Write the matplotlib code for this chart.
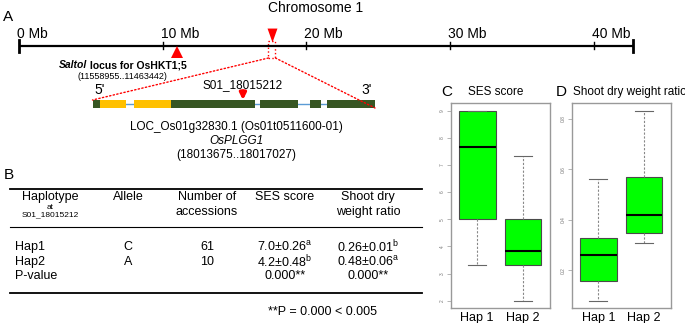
import numpy as np
import matplotlib.pyplot as plt
from matplotlib.patches import Rectangle, ConnectionPatch
from matplotlib.lines import Line2D

plt.rcParams['font.family'] = ['Liberation Sans', 'DejaVu Sans']
plt.rcParams['mathtext.fontset'] = 'custom'
plt.rcParams['mathtext.rm'] = 'Liberation Sans'
plt.rcParams['mathtext.it'] = 'Liberation Sans:italic'
plt.rcParams['mathtext.bf'] = 'Liberation Sans:bold'

W, H = 685, 323

#--- panel A: chromosome 1 and gene model
chrom_len = 42.7              # Mb as drawn
chrom_ticks = [0, 10, 20, 30, 40]
saltol_pos = 11.0             # Mb
plgg1_region = (17.35, 17.84) # Mb, zoom box
gene_start, gene_end = 18013675, 18017027
exons_green = [(18013675, 18013767), (18014611, 18015609), (18015660, 18016117),
               (18016251, 18016390), (18016461, 18017027)]
exons_yellow = [(18013767, 18014076), (18014162, 18014611)]
snp_mark = 18015460           # where the arrow is drawn
snp_name = 'S01_18015212'

#--- panel B: table
tab_cols = ['Haplotype', 'Allele', 'Number of\naccessions', 'SES score', 'Shoot dry\nweight ratio']
tab_rows = [['Hap1', 'C', '61', r'7.0±0.26$^{\mathrm{a}}$', r'0.26±0.01$^{\mathrm{b}}$'],
            ['Hap2', 'A', '10', r'4.2±0.48$^{\mathrm{b}}$', r'0.48±0.06$^{\mathrm{a}}$'],
            ['P-value', '', '', '0.000**', '0.000**']]

#--- panels C, D: box stats
haps = ['Hap 1', 'Hap 2']
ses_lo = [3.33, 2.0]
ses_q1 = [5.0, 3.33]
ses_med = [7.67, 3.83]
ses_q3 = [9.0, 5.0]
ses_hi = [9.0, 7.33]
sdw_lo = [0.08, 0.31]
sdw_q1 = [0.159, 0.348]
sdw_med = [0.261, 0.42]
sdw_q3 = [0.329, 0.569]
sdw_hi = [0.56, 0.83]

fig = plt.figure(figsize=(6.85, 3.23), dpi=100)

def fx(x):
    return x / W

def fy(y):
    return 1 - y / H

def px_axes(x0, y0, x1, y1):
    return fig.add_axes([x0 / W, 1 - y1 / H, (x1 - x0) / W, (y1 - y0) / H])

# chromosome axis, x in Mb, y in pixel rows
mb_px = 14.375
ax_chr = px_axes(0, 0, W, 100)
ax_chr.set_xlim(-19 / mb_px, (W - 19) / mb_px)
ax_chr.set_ylim(100, 0)
ax_chr.axis('off')
ax_chr.plot([0, chrom_len], [46, 46], color='black', lw=1.6, solid_capstyle='butt')
for x in [0, chrom_len]:
    ax_chr.plot([x, x], [40, 52], color='black', lw=2)
for t in chrom_ticks[1:]:
    ax_chr.plot([t, t], [42, 49], color='black', lw=1)
for t in chrom_ticks:
    ax_chr.text(t - 0.15, 34, '%d Mb' % t, ha='left', va='center', fontsize=10)
ax_chr.plot(saltol_pos, 51.5, marker='^', color='red', ms=8, mew=0)
mid = sum(plgg1_region) / 2
ax_chr.plot(mid, 35, marker=[(-5, 7), (5, 7), (0, -7)], color='red', ms=10, mew=0)
ax_chr.add_patch(Rectangle((plgg1_region[0], 41), plgg1_region[1] - plgg1_region[0], 17,
                           fill=False, ec='red', ls=':', lw=1))

fig.text(fx(3), fy(17), 'A', fontsize=11, va='center', ha='left')
fig.text(fx(316), fy(8), 'Chromosome 1', fontsize=10, va='center', ha='center')
fig.text(fx(87), fy(65), 'Saltol', fontsize=7.5, fontweight='bold', fontstyle='italic',
         ha='right', va='center')
fig.text(fx(87), fy(65), ' locus for OsHKT1;5', fontsize=7.5, fontweight='bold',
         ha='left', va='center')
fig.text(fx(122), fy(76), '(11558955..11463442)', fontsize=6.5, ha='center', va='center')

# gene model axis, x in bp
ax_gene = px_axes(92.5, 80, 375, 115)
ax_gene.set_xlim(gene_start, gene_end)
ax_gene.set_ylim(115, 80)
ax_gene.axis('off')
ax_gene.plot([gene_start, gene_end], [104, 104], color='#5b9bd5', lw=1, zorder=1)
ax_gene.broken_barh([(s, e - s) for s, e in exons_green], (100.3, 7.4),
                    facecolors='#375623', edgecolor='none', zorder=3)
ax_gene.broken_barh([(s, e - s) for s, e in exons_yellow], (100, 8),
                    facecolors='#ffc000', edgecolor='none', zorder=3)
ax_gene.annotate('', xy=(snp_mark, 100), xytext=(snp_mark, 91),
                 arrowprops=dict(arrowstyle='-|>', color='red', lw=2.5, mutation_scale=9,
                                 shrinkA=0, shrinkB=0))
ax_gene.text(snp_mark, 85, snp_name, ha='center', va='center', fontsize=8.5)
ax_gene.text(gene_start + 20, 90, "5'", ha='left', va='center', fontsize=10)
ax_gene.text(gene_end - 35, 90, "3'", ha='right', va='center', fontsize=10)

for xa, xb, yb in [(plgg1_region[0], gene_start, 100), (plgg1_region[1], gene_end, 108)]:
    con = ConnectionPatch(xyA=(xa, 58), coordsA=ax_chr.transData,
                          xyB=(xb, yb), coordsB=ax_gene.transData,
                          color='red', ls=':', lw=1)
    fig.add_artist(con)

fig.text(fx(236), fy(127), 'LOC_Os01g32830.1 (Os01t0511600-01)', fontsize=8.5, ha='center', va='center')
fig.text(fx(236), fy(141), 'OsPLGG1', fontsize=8.5, fontstyle='italic', ha='center', va='center')
fig.text(fx(236), fy(155), '(%d..%d)' % (gene_start, gene_end), fontsize=8.5, ha='center', va='center')

# panel B table
fig.text(fx(4), fy(175.5), 'B', fontsize=11, ha='left', va='center')
for y, lw in [(189, 1.3), (226.7, 0.8), (293.3, 1.3)]:
    fig.add_artist(Line2D([fx(10), fx(422)], [fy(y), fy(y)], color='black', lw=lw))
col_x = [50, 128, 207, 285, 368]
for x, name in zip(col_x, tab_cols):
    lines = name.split('\n')
    fig.text(fx(x), fy(196.7), lines[0], fontsize=9, ha='center', va='center')
    if len(lines) > 1:
        fig.text(fx(x), fy(211.7), lines[1], fontsize=9, ha='center', va='center')
fig.text(fx(col_x[0]), fy(207.5), 'at', fontsize=6, ha='center', va='center')
fig.text(fx(col_x[0]), fy(214.5), snp_name, fontsize=6, ha='center', va='center')
row_y = [246.7, 261.7, 276]
for y, row in zip(row_y, tab_rows):
    fig.text(fx(15), fy(y), row[0], fontsize=9, ha='left', va='center')
    for x, cell in zip(col_x[1:], row[1:]):
        fig.text(fx(x), fy(y), cell, fontsize=9, ha='center', va='center')
fig.text(fx(322), fy(311.7), '**P = 0.000 < 0.005', fontsize=9, ha='center', va='center')

# panels C, D boxplots
def box_stats(lo, q1, med, q3, hi):
    return [dict(whislo=a, q1=b, med=c, q3=d, whishi=e, label=n)
            for a, b, c, d, e, n in zip(lo, q1, med, q3, hi, haps)]

def draw_box(ax, stats, ylim, yticks):
    ax.bxp(stats, positions=[1, 2], widths=0.8, patch_artist=True, showfliers=False,
           boxprops=dict(facecolor='#00ff00', edgecolor='#4a4a4a', lw=0.8),
           medianprops=dict(color='black', lw=1.5),
           whiskerprops=dict(color='#888888', ls=(0, (2, 1.5)), lw=0.8),
           capprops=dict(color='#666666', lw=0.8))
    ax.set_xlim(0.42, 2.58)
    ax.set_ylim(*ylim)
    ax.set_yticks(yticks)
    ax.set_yticklabels([('%g' % v) for v in yticks], rotation=90, fontsize=3.5,
                       color='#777777', va='center')
    ax.tick_params(axis='y', length=3, width=0.5, color='#999999', pad=1)
    ax.tick_params(axis='x', length=0, labelsize=9, pad=3)
    for s in ax.spines.values():
        s.set_color('#999999')
        s.set_linewidth(1)

ax_c = px_axes(450.7, 103, 549.5, 308.3)
draw_box(ax_c, box_stats(ses_lo, ses_q1, ses_med, ses_q3, ses_hi), (1.72, 9.28),
         [2, 3, 4, 5, 6, 7, 8, 9])
ax_d = px_axes(571.7, 103, 670.7, 308.3)
draw_box(ax_d, box_stats(sdw_lo, sdw_q1, sdw_med, sdw_q3, sdw_hi), (0.05, 0.862),
         [0.2, 0.4, 0.6, 0.8])

fig.text(fx(441), fy(92), 'C', fontsize=11, ha='left', va='center')
fig.text(fx(496), fy(92), 'SES score', fontsize=8.5, ha='center', va='center')
fig.text(fx(556), fy(92), 'D', fontsize=11, ha='left', va='center')
fig.text(fx(572.7), fy(92), 'Shoot dry weight ratio', fontsize=8.5, ha='left', va='center')

fig.savefig('out.png', dpi=100)
